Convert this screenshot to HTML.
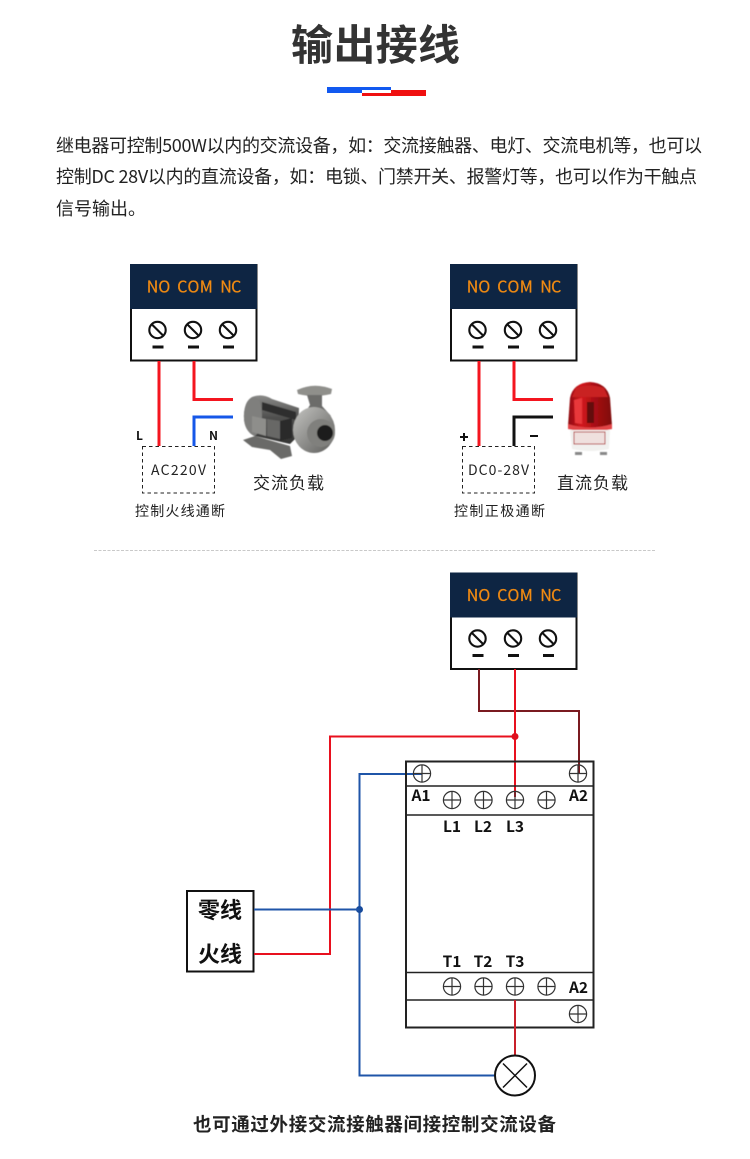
<!DOCTYPE html>
<html><head><meta charset="utf-8">
<style>
html,body{margin:0;padding:0;background:#fff;width:750px;height:1159px;overflow:hidden}
svg{display:block}
text{font-family:"Noto Sans CJK SC","Liberation Sans",sans-serif}
.p{font-size:18px;fill:#222}
.hdr{font-size:16px;fill:#f08a12;stroke:#f08a12;stroke-width:.25}
.lab{fill:#222}
.bl{font-size:15.5px;font-weight:700;fill:#111;text-anchor:middle}
</style></head><body>
<svg width="750" height="1159" viewBox="0 0 750 1159" xmlns="http://www.w3.org/2000/svg">
<defs>
<filter id="soft" x="-5%" y="-5%" width="110%" height="110%"><feGaussianBlur stdDeviation="0.5"/></filter>
<g id="scr"><circle r="8.200" fill="#fff" stroke="#111" stroke-width="2.100"/><path d="M-5.800-5.800L5.800 5.800" stroke="#111" stroke-width="2.100"/></g>
<g id="plus"><circle r="8.600" fill="none" stroke="#333" stroke-width="1.200"/><path d="M-8.600 0H8.600M0-8.600V8.600" stroke="#333" stroke-width="1.200"/></g>
<g id="mod">
<rect x="1" y="1" width="125.500" height="95.500" fill="#fff" stroke="#111" stroke-width="2"/>
<rect x="0" y="0" width="127" height="45" fill="#0e2543"/>
<text class="hdr" x="16.700" y="28.500" textLength="23.500">NO</text>
<text class="hdr" x="47.300" y="28.500" textLength="35.500">COM</text>
<text class="hdr" x="90.300" y="28.500" textLength="21">NC</text>
<use href="#scr" x="27.500" y="66"/><use href="#scr" x="63" y="66"/><use href="#scr" x="98" y="66"/>
<path d="M22.500 83h11M58 83h11M93 83h11" stroke="#111" stroke-width="3"/>
</g>
<linearGradient id="mot" x1="0" y1="0" x2="0" y2="1"><stop offset="0" stop-color="#8a8a88"/><stop offset=".45" stop-color="#50504f"/><stop offset="1" stop-color="#343433"/></linearGradient>
<linearGradient id="vol" x1="0" y1="0" x2="1" y2="1"><stop offset="0" stop-color="#c4c4c1"/><stop offset="1" stop-color="#5c5c5a"/></linearGradient>
<linearGradient id="dome" x1="0" y1="0" x2="1" y2="0"><stop offset="0" stop-color="#8d0b10"/><stop offset=".3" stop-color="#d3181d"/><stop offset=".6" stop-color="#a90f14"/><stop offset="1" stop-color="#7e0709"/></linearGradient>
</defs>

<text x="291" y="60" font-size="42" font-weight="700" fill="#333" textLength="169">输出接线</text>
<rect x="327" y="87" width="64" height="3" fill="#1259f0"/><rect x="327" y="90" width="35" height="3" fill="#1259f0"/>
<rect x="362" y="93" width="64" height="3" fill="#f01010"/><rect x="391" y="90" width="35" height="3" fill="#f01010"/>

<text class="p" x="56" y="152" textLength="646">继电器可控制500W以内的交流设备&#xFF0C;如&#xFF1A;交流接触器、电灯、交流电机等&#xFF0C;也可以</text>
<text class="p" x="56" y="183" textLength="641">控制DC 28V以内的直流设备&#xFF0C;如&#xFF1A;电锁、门禁开关、报警灯等&#xFF0C;也可以作为干触点</text>
<text class="p" x="56" y="215">信号输出。</text>

<!-- left -->
<use href="#mod" x="130" y="264"/>
<path d="M159 361V446" stroke="#f4151f" stroke-width="3" fill="none"/>
<path d="M194 361V399.500H233" stroke="#f4151f" stroke-width="3" fill="none"/>
<path d="M194 446V417H233" stroke="#1557e8" stroke-width="3" fill="none"/>
<rect x="142.500" y="446.500" width="72" height="46.500" fill="none" stroke="#222" stroke-width="1" stroke-dasharray="3.500 3"/>
<text class="lab" x="151" y="475" textLength="55" font-size="14">AC220V</text>
<text x="136" y="440" font-size="12" font-weight="700" fill="#111">L</text>
<text x="209" y="440" font-size="12" font-weight="700" fill="#111">N</text>
<text class="lab" x="253" y="489" font-size="17" textLength="71">交流负载</text>
<text class="lab" x="135" y="516" font-size="14" textLength="90">控制火线通断</text>
<!-- pump -->
<g filter="url(#soft)">
<path d="M243 440L255 436L290 446L292 456L281 459L270 450L252 447Z" fill="#6a6a68"/>
<path d="M252 397Q262 393 272 399L299 408L298 436L290 444L255 436Q243 430 244 414Q245 401 252 397Z" fill="url(#mot)"/>
<path d="M244 414Q245 399 254 397Q262 398 262 416Q261 434 254 436Q243 430 244 414Z" fill="#7f7f7d"/>
<path d="M262 402L296 412L296 420L262 410Z" fill="#2e2e2d"/>
<path d="M252 416L266 419V436L252 432Z" fill="#8e8e8b"/>
<path d="M267 419L280 421V439L267 436Z" fill="#686866"/>
<path d="M280 421L292 418V438L280 441Z" fill="#2c2c2b"/>
<path d="M297 390Q314 382 332 389L331 394Q314 398 298 394Z" fill="#8f8f8b"/>
<path d="M307 395H322L322 406L331 416L303 416L310 405Z" fill="#6c6c6a"/>
<ellipse cx="314" cy="430" rx="21" ry="23" fill="url(#vol)"/>
<circle cx="321" cy="433" r="14" fill="#80807d"/>
<circle cx="325" cy="433" r="8" fill="#1f1f1e"/>
</g>

<!-- right -->
<use href="#mod" x="450" y="264"/>
<path d="M479 361V446" stroke="#f4151f" stroke-width="3" fill="none"/>
<path d="M514 361V399.500H553" stroke="#f4151f" stroke-width="3" fill="none"/>
<path d="M514 446V417H553" stroke="#111" stroke-width="3" fill="none"/>
<rect x="462.500" y="446.500" width="72" height="46.500" fill="none" stroke="#222" stroke-width="1" stroke-dasharray="3.500 3"/>
<text class="lab" x="468" y="475" textLength="61" font-size="14">DC0-28V</text>
<path d="M460 437h8M464 433v8" stroke="#111" stroke-width="2"/>
<path d="M530 436h8" stroke="#111" stroke-width="2"/>
<text class="lab" x="557" y="489" font-size="17" textLength="71">直流负载</text>
<text class="lab" x="454" y="516" font-size="14" textLength="91">控制正极通断</text>
<!-- alarm -->
<g filter="url(#soft)">
<path d="M568 426L570 398Q573 383 590 382Q607 383 610 398L612 426Q590 431 568 426Z" fill="url(#dome)"/>
<path d="M572 397H608L604 388Q590 383 576 388Z" fill="#c92024"/>
<path d="M574 400L582 398V424L575 423Z" fill="#e8383b"/>
<rect x="587" y="402" width="7" height="21" fill="#64080a"/>
<path d="M568 424Q590 431 612 424V429Q590 434 568 429Z" fill="#e24446"/>
<path d="M570 430H610L609 449Q590 453 572 449Z" fill="#f1f1ef"/>
<rect x="574" y="432" width="31" height="12" fill="#efe0de" stroke="#b83a3a" stroke-width="1"/>
<rect x="575" y="452" width="7" height="3" fill="#888"/><rect x="600" y="452" width="7" height="3" fill="#888"/>
</g>

<path d="M94 550.500H656" stroke="#c9c9c9" stroke-width="1" stroke-dasharray="3 1.500"/>

<!-- bottom -->
<use href="#mod" x="450" y="572.500"/>
<path d="M479 669V711H579V773" stroke="#7a1a20" stroke-width="2" fill="none"/>
<path d="M515 669V797" stroke="#e8101e" stroke-width="2" fill="none"/>
<path d="M515 736.500H330V954H254" stroke="#e8101e" stroke-width="2" fill="none"/>
<circle cx="515" cy="736.500" r="3.500" fill="#e0101e"/>
<path d="M422 774H359.500V1075.500H495" stroke="#1f55a8" stroke-width="2" fill="none"/>
<path d="M254 909.500H359.500" stroke="#1f55a8" stroke-width="2" fill="none"/>
<circle cx="359.500" cy="909.500" r="3.500" fill="#174a9c"/>

<rect x="406" y="761.500" width="187.500" height="266" fill="none" stroke="#222" stroke-width="2"/>
<path d="M406 786H594M406 815H594M406 972.500H594M406 1000H594" stroke="#222" stroke-width="1.500"/>
<use href="#plus" x="422" y="773.500"/><use href="#plus" x="578" y="773.500"/>
<use href="#plus" x="452" y="800"/><use href="#plus" x="483.500" y="800"/><use href="#plus" x="515" y="800"/><use href="#plus" x="546.500" y="800"/>
<use href="#plus" x="452" y="986.500"/><use href="#plus" x="483.500" y="986.500"/><use href="#plus" x="515" y="986.500"/><use href="#plus" x="546.500" y="986.500"/>
<use href="#plus" x="578" y="1014"/>
<text class="bl" x="421" y="801">A1</text><text class="bl" x="578.500" y="801">A2</text>
<text class="bl" x="452" y="832">L1</text><text class="bl" x="483" y="832">L2</text><text class="bl" x="515" y="832">L3</text>
<text class="bl" x="452" y="967">T1</text><text class="bl" x="483" y="967">T2</text><text class="bl" x="515" y="967">T3</text>
<text class="bl" x="578.500" y="993">A2</text>
<path d="M515 1000V1055" stroke="#c8202a" stroke-width="2"/>
<circle cx="515" cy="1075.500" r="20" fill="#fff" stroke="#111" stroke-width="2"/>
<path d="M503 1063.500L527 1087.500M527 1063.500L503 1087.500" stroke="#111" stroke-width="1.500"/>

<rect x="187" y="891" width="66.500" height="80.500" fill="#fff" stroke="#111" stroke-width="2"/>
<text x="198" y="918" font-size="22" font-weight="700" fill="#111">零线</text>
<text x="198" y="962" font-size="22" font-weight="700" fill="#111">火线</text>
<path d="M254 909.500H359.500" stroke="#1f55a8" stroke-width="2" fill="none"/>
<path d="M254 954H330" stroke="#e8101e" stroke-width="2" fill="none"/>

<text x="193" y="1131" font-size="18.500" font-weight="700" fill="#222" textLength="363">也可通过外接交流接触器间接控制交流设备</text>
</svg>
</body></html>
